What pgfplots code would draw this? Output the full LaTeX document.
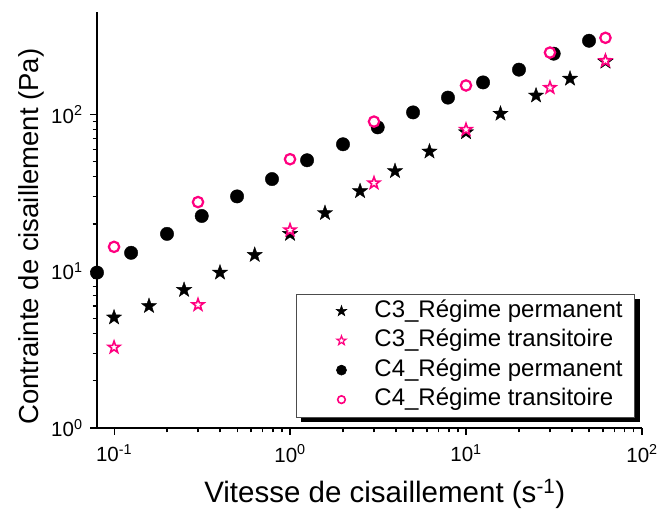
\documentclass[border=0pt]{standalone}
\usepackage{fontspec}
\setmainfont{Liberation Sans}
\usepackage{pgfplots}
\pgfplotsset{compat=1.18}
\usetikzlibrary{shadows}
\definecolor{rose}{RGB}{255,0,128}

% five-pointed star mark, filled and stroked
\pgfdeclareplotmark{pstar}{%
  \pgfpathmoveto{\pgfqpointpolar{90}{\pgfplotmarksize}}%
  \pgfpathlineto{\pgfqpointpolar{126}{0.40\pgfplotmarksize}}%
  \pgfpathlineto{\pgfqpointpolar{162}{\pgfplotmarksize}}%
  \pgfpathlineto{\pgfqpointpolar{198}{0.40\pgfplotmarksize}}%
  \pgfpathlineto{\pgfqpointpolar{234}{\pgfplotmarksize}}%
  \pgfpathlineto{\pgfqpointpolar{270}{0.40\pgfplotmarksize}}%
  \pgfpathlineto{\pgfqpointpolar{306}{\pgfplotmarksize}}%
  \pgfpathlineto{\pgfqpointpolar{342}{0.40\pgfplotmarksize}}%
  \pgfpathlineto{\pgfqpointpolar{18}{\pgfplotmarksize}}%
  \pgfpathlineto{\pgfqpointpolar{54}{0.40\pgfplotmarksize}}%
  \pgfpathclose
  \pgfusepathqfillstroke}

% legend sample: blank room (plain pgf path, so no shadow), then the mark alone
\pgfplotsset{
  lgimg/.style={legend image code/.code={%
    \pgfpathrectangle{\pgfqpoint{0pt}{-3pt}}{\pgfqpoint{66pt}{6pt}}\pgfusepath{discard}%
    \draw[##1,/tikz/only marks] plot coordinates {(37pt,0pt)};}},
}

\begin{document}
\begin{tikzpicture}
\useasboundingbox (-97pt,-86pt) rectangle (560pt,428pt);
\begin{axis}[
  scale only axis,
  width=545pt, height=416pt,
  xmode=log, ymode=log,
  xmin=0.08, xmax=100,
  ymin=1, ymax=450,
  axis x line*=bottom, axis y line*=left,
  axis line style={line width=1.3pt},
  tick align=outside,
  major tick length=7pt, minor tick length=4.5pt,
  every tick/.style={black, line width=1.1pt},
  xtick={0.1,1,10,100},
  xticklabels={10\textsuperscript{-1},10\textsuperscript{0},10\textsuperscript{1},10\textsuperscript{2}},
  ytick={1,10,100},
  yticklabels={10\textsuperscript{0},10\textsuperscript{1},10\textsuperscript{2}},
  tick label style={font=\fontsize{20.5}{24}\selectfont},
  xticklabel style={yshift=-6pt},
  yticklabel style={xshift=-4pt},
  xlabel={Vitesse de cisaillement (s\textsuperscript{-1})},
  ylabel={Contrainte de cisaillement (Pa)},
  xlabel style={font=\fontsize{29.5}{34}\selectfont,
    at={(ticklabel cs:0.528)}, anchor=near ticklabel, yshift=-10pt},
  ylabel style={font=\fontsize{27.5}{32}\selectfont,
    at={(ticklabel cs:0.46)}, anchor=near ticklabel},
  legend cell align={left},
  legend style={at={(0.987,0.026)}, anchor=south east,
    font=\fontsize{24}{28}\selectfont,
    draw=black!70, line width=0.6pt, fill=white,
    general shadow={fill=black, shadow xshift=5pt, shadow yshift=-5pt},
    inner xsep=8pt, inner ysep=2.5pt,
    nodes={text height=17pt, text depth=5pt, inner ysep=3.75pt, inner xsep=4pt}},
]
\addlegendimage{black, fill=black, mark=pstar, mark size=5.5pt, lgimg}
\addlegendimage{rose, fill=white, mark=pstar, mark size=4.8pt, line width=1.2pt, lgimg}
\addlegendimage{black, fill=black, mark=*, mark size=5pt, lgimg}
\addlegendimage{rose, fill=white, mark=*, mark size=3.8pt, line width=1.6pt, lgimg}
\legend{C3\_Régime permanent, C3\_Régime transitoire,
  C4\_Régime permanent, C4\_Régime transitoire}
% C3 regime permanent
\addplot[only marks, mark=pstar, mark size=8pt, black, fill=black, forget plot]
  coordinates {(0.1,5.07) (0.158,6.0) (0.25,7.6) (0.4,9.8) (0.63,12.7)
  (1,17.3) (1.58,23.5) (2.5,32.4) (3.95,43.5) (6.2,58) (10,77) (15.7,101)
  (25,132) (39,169) (62,217)};
% C3 regime transitoire
\addplot[only marks, mark=pstar, mark size=6.2pt, rose, fill=white, line width=1.6pt, forget plot]
  coordinates {(0.1,3.27) (0.3,6.1) (1,18.3) (3,36.5) (10,80) (30,148) (62,220)};
% C4 regime permanent
\addplot[only marks, mark=*, mark size=6.7pt, black, fill=black, forget plot]
  coordinates {(0.08,9.8) (0.125,13.1) (0.2,17.3) (0.315,22.5) (0.5,30)
  (0.79,38.7) (1.25,51) (2,64.5) (3.15,82.7) (5,103) (7.9,128) (12.5,160)
  (20,193) (31.5,244) (50,295)};
% C4 regime transitoire
\addplot[only marks, mark=*, mark size=5.2pt, rose, fill=white, line width=2.2pt, forget plot]
  coordinates {(0.1,14.3) (0.3,27.6) (1,51.8) (3,90) (10,153) (30,248) (62,308)};
\end{axis}
\end{tikzpicture}
\end{document}
